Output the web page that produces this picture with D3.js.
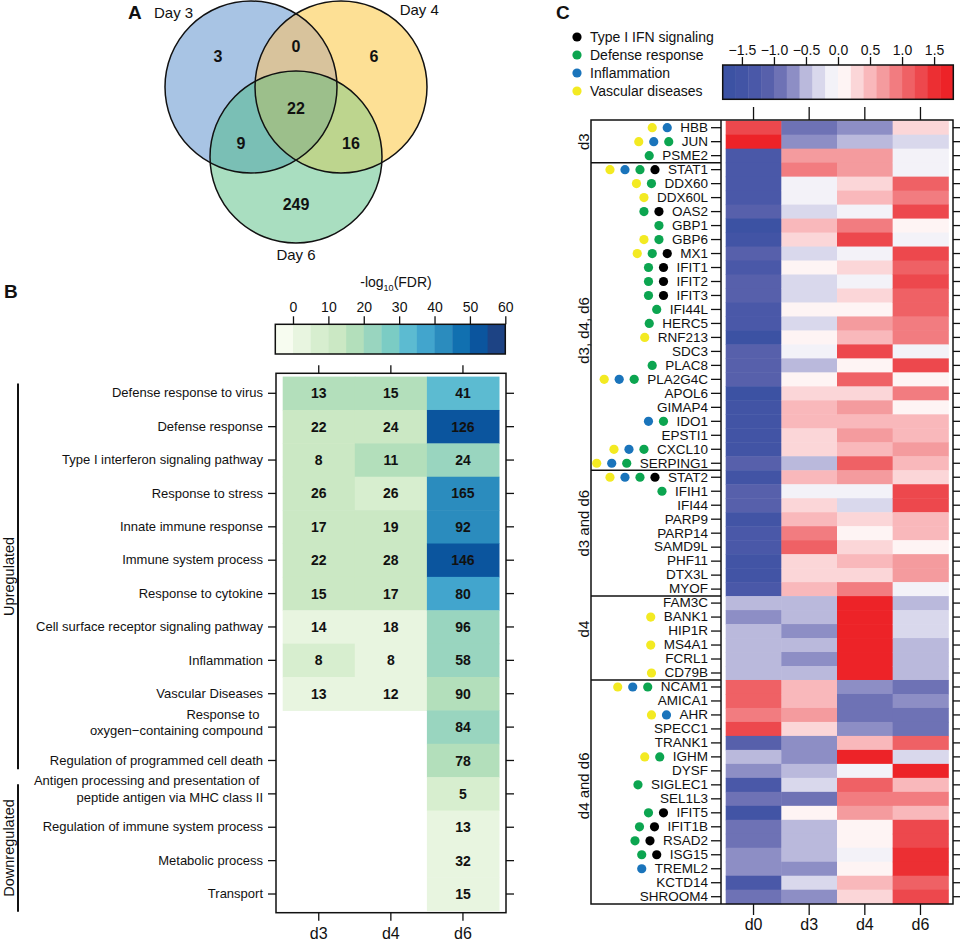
<!DOCTYPE html>
<html>
<head>
<meta charset="utf-8">
<script src="https://cdn.jsdelivr.net/npm/d3@7"></script>
<style>
  body { margin: 0; background: #fff; }
  svg { font-family: "Liberation Sans", Arial, Helvetica, sans-serif; }
</style>
</head>
<body>
<svg id="fig" width="965" height="942"></svg>
<script>
// ---------------- data ----------------
// A: Venn of DE genes per day
var vennSets = ["Day 3", "Day 4", "Day 6"];
// membership flags (Day3 Day4 Day6) of each region and its gene count
var vennRegions = ["100", "010", "001", "110", "101", "011", "111"];
var vennCounts = [3, 6, 249, 0, 9, 16, 22];

// B: GO terms, gene counts (numbers) and -log10(FDR) (colour)
var goTerms = [
  "Defense response to virus",
  "Defense response",
  "Type I interferon signaling pathway",
  "Response to stress",
  "Innate immune response",
  "Immune system process",
  "Response to cytokine",
  "Cell surface receptor signaling pathway",
  "Inflammation",
  "Vascular Diseases",
  "Response to \noxygen\u2212containing compound",
  "Regulation of programmed cell death",
  "Antigen processing and presentation of \npeptide antigen via MHC class II",
  "Regulation of immune system process",
  "Metabolic process",
  "Transport"
];
var goDays = ["d3", "d4", "d6"];
var goCountD3 = [13, 22, 8, 26, 17, 22, 15, 14, 8, 13, null, null, null, null, null, null];
var goCountD4 = [15, 24, 11, 26, 19, 28, 17, 18, 8, 12, null, null, null, null, null, null];
var goCountD6 = [41, 126, 24, 165, 92, 146, 80, 96, 58, 90, 84, 78, 5, 13, 32, 15];
var goFdrD3 = [17, 12, 12, 12, 12, 12, 12, 3, 7, 3, null, null, null, null, null, null];
var goFdrD4 = [17, 12, 17, 7, 12, 12, 12, 3, 3, 3, null, null, null, null, null, null];
var goFdrD6 = [32, 52, 22, 42, 42, 52, 37, 22, 22, 17, 22, 17, 7, 3, 3, 3];
var termGroups = ["Upregulated", "Downregulated"];
var termGroupSizes = [12, 4];
var fdrTicks = [0, 10, 20, 30, 40, 50, 60];

// C: scaled expression of the DE genes
var genes = [
  "HBB", "JUN", "PSME2",
  "STAT1", "DDX60", "DDX60L", "OAS2", "GBP1", "GBP6", "MX1", "IFIT1", "IFIT2", "IFIT3", "IFI44L",
  "HERC5", "RNF213", "SDC3", "PLAC8", "PLA2G4C", "APOL6", "GIMAP4", "IDO1", "EPSTI1", "CXCL10", "SERPING1",
  "STAT2", "IFIH1", "IFI44", "PARP9", "PARP14", "SAMD9L", "PHF11", "DTX3L", "MYOF",
  "FAM3C", "BANK1", "HIP1R", "MS4A1", "FCRL1", "CD79B",
  "NCAM1", "AMICA1", "AHR", "SPECC1", "TRANK1", "IGHM", "DYSF", "SIGLEC1", "SEL1L3", "IFIT5",
  "IFIT1B", "RSAD2", "ISG15", "TREML2", "KCTD14", "SHROOM4"
];
var geneGroups = ["d3", "d3, d4, d6", "d3 and d6", "d4", "d4 and d6"];
var geneGroupSizes = [3, 22, 9, 6, 16];
var timePoints = ["d0", "d3", "d4", "d6"];
var zD0 = [1.3, 1.7, -1.3,
  -1.3, -1.3, -1.3, -1.1, -1.7, -1.5, -1.1, -1.3, -1.1, -1.1, -1.3,
  -1.3, -1.7, -1.1, -1.1, -1.1, -1.7, -1.5, -1.5, -1.5, -1.5, -1.1,
  -1.5, -1.1, -1.1, -1.5, -1.3, -1.3, -1.5, -1.5, -1.3,
  -0.5, -0.7, -0.5, -0.5, -0.5, -0.5,
  1.1, 1.1, 0.9, 1.3, -1.1, -0.5, -0.7, -1.3, -0.9, -1.5,
  -0.9, -0.9, -0.7, -0.7, -1.3, -0.9];
var zD3 = [-0.9, -0.7, 0.7,
  0.9, -0.1, -0.1, -0.3, 0.5, 0.3, -0.3, 0.1, -0.3, -0.3, 0.1,
  -0.3, 0.1, -0.1, -0.5, 0.1, 0.3, 0.5, 0.5, 0.3, 0.3, -0.5,
  0.5, -0.1, 0.3, 0.5, 0.9, 1.1, 0.3, 0.3, 0.5,
  -0.5, -0.5, -0.7, -0.5, -0.7, -0.5,
  0.5, 0.5, 0.7, 0.3, -0.7, -0.7, -0.5, -0.3, -0.9, 0.1,
  -0.5, -0.5, -0.5, -0.7, -0.3, -0.7];
var zD4 = [-0.7, -0.5, 0.7,
  0.7, 0.3, 0.5, -0.1, 0.9, 1.3, -0.1, 0.3, -0.1, 0.3, 0.1,
  0.7, 0.5, 1.3, 0.1, 1.1, 0.3, 0.7, 0.5, 0.7, 0.5, 1.1,
  0.7, -0.1, -0.3, 0.3, 0.1, 0.3, 0.5, 0.3, 0.9,
  1.7, 1.7, 1.7, 1.7, 1.7, 1.7,
  -0.7, -0.9, -0.9, -0.7, 0.5, 1.7, -0.1, 1.1, 0.9, 0.7,
  0.1, 0.1, -0.1, 0.1, 0.5, 0.3];
var zD6 = [0.3, -0.3, -0.1,
  -0.1, 1.1, 0.9, 1.3, 0.1, -0.1, 1.3, 1.1, 1.3, 1.1, 1.1,
  0.9, 0.9, -0.1, 1.3, 0.1, 0.9, 0.1, 0.5, 0.5, 0.7, 0.5,
  0.3, 1.3, 1.3, 0.5, 0.5, 0.1, 0.7, 0.7, -0.1,
  -0.5, -0.3, -0.3, -0.5, -0.5, -0.5,
  -0.9, -0.7, -0.9, -0.9, 1.1, -0.3, 1.7, 0.5, 0.9, 0.5,
  1.3, 1.3, 1.5, 1.5, 1.1, 1.3];
var zTicks = [-1.5, -1.0, -0.5, 0.0, 0.5, 1.0, 1.5];

var annotCategories = ["Type I IFN signaling", "Defense response", "Inflammation", "Vascular diseases"];
var typeIfnGenes = ["STAT1", "OAS2", "MX1", "IFIT1", "IFIT2", "IFIT3", "STAT2", "IFIT5", "IFIT1B", "RSAD2", "ISG15"];
var defenseGenes = ["JUN", "PSME2", "STAT1", "DDX60", "OAS2", "GBP1", "GBP6", "MX1", "IFIT1", "IFIT2", "IFIT3",
  "IFI44L", "HERC5", "PLAC8", "PLA2G4C", "IDO1", "CXCL10", "SERPING1", "STAT2", "IFIH1", "NCAM1", "IGHM",
  "SIGLEC1", "IFIT5", "IFIT1B", "RSAD2", "ISG15"];
var inflammationGenes = ["HBB", "JUN", "STAT1", "PLA2G4C", "IDO1", "CXCL10", "SERPING1", "STAT2", "NCAM1", "AHR", "TREML2"];
var vascularGenes = ["HBB", "JUN", "STAT1", "DDX60", "DDX60L", "GBP6", "MX1", "RNF213", "PLA2G4C", "CXCL10",
  "SERPING1", "STAT2", "BANK1", "MS4A1", "CD79B", "NCAM1", "AHR", "IGHM"];

// ---------------- styles ----------------
var FONT = '"Liberation Sans", Arial, Helvetica, sans-serif';
var INK = "#111";
var vennFill = ["#a8c4e4", "#fde095", "#a9dec0", "#d8c39c", "#7abfb5", "#bdd58e", "#9cbf8b"];
var gnbu = ["#f7fcf0", "#e8f5e0", "#d7eecf", "#cbe8c4", "#b3dfbb", "#99d5bf", "#7bccc4",
  "#5cbbd1", "#42a5cd", "#2b8cbe", "#1170b0", "#0b559e", "#1d4384"];
var bwr = ["#3c52a3", "#4254a5", "#4a58a8", "#5760ab", "#6e72b5", "#8d8ec5", "#bab9dc", "#d9d8ec", "#f3f2f8",
  "#fef4f4", "#fbd6d8", "#f9b8bb", "#f49b9e", "#f27c80", "#ef6165", "#ed484d", "#ec2f33", "#ed2328"];
var catColors = ["#000000", "#0ca550", "#1a74bb", "#f3ea22"];
// nudges of the rotated group names along the heatmap rows (px)
var groupLabelNudge = [0, 14, -10, -9, -6];

var svg = d3.select("#fig");

function styleAxis(g, fs) {
  g.attr("font-size", null).attr("font-family", null);
  g.select(".domain").remove();
  g.selectAll(".tick line").attr("stroke", INK).attr("stroke-width", 1.3);
  g.selectAll(".tick text").attr("fill", INK).attr("font-size", fs).attr("font-family", FONT);
  return g;
}

function panelLetter(txt, x, y) {
  svg.append("text").attr("x", x).attr("y", y).attr("font-size", 19).attr("font-weight", "bold")
    .attr("fill", INK).text(txt);
}

// ---------------- A: Venn ----------------
var vennR = 86;
var vennCenters = [[251, 87], [341, 87], [296, 157]];
var vennLabelDir = [[-0.9, -0.87], [0.91, -0.9], [0, 1.14]];

var defs = svg.append("defs");
vennCenters.forEach(function(c, i) {
  defs.append("clipPath").attr("id", "vclip" + i)
    .append("circle").attr("cx", c[0]).attr("cy", c[1]).attr("r", vennR);
});

function members(code) {
  var m = [];
  code.split("").forEach(function(f, i) { if (f === "1") m.push(i); });
  return m;
}

var gA = svg.append("g");
var regionOrder = d3.range(vennRegions.length).sort(function(a, b) {
  return members(vennRegions[a]).length - members(vennRegions[b]).length;
});
regionOrder.forEach(function(k) {
  var m = members(vennRegions[k]);
  var g = gA;
  m.slice(0, -1).forEach(function(i) {
    g = g.append("g").attr("clip-path", "url(#vclip" + i + ")");
  });
  var c = vennCenters[m[m.length - 1]];
  g.append("circle").attr("cx", c[0]).attr("cy", c[1]).attr("r", vennR).attr("fill", vennFill[k]);
});
gA.selectAll("circle.outline").data(vennCenters).enter().append("circle")
  .attr("class", "outline")
  .attr("cx", function(d) { return d[0]; }).attr("cy", function(d) { return d[1]; })
  .attr("r", vennR).attr("fill", "none").attr("stroke", INK).attr("stroke-width", 1.5);

// place each count at the point of its region farthest from any circle edge
function regionLabelPos(code) {
  var best = null, bestD = -1;
  for (var x = 150; x <= 440; x += 1) {
    for (var y = 0; y <= 250; y += 1) {
      var ok = true, dmin = Infinity;
      for (var i = 0; i < 3; i++) {
        var dist = Math.hypot(x - vennCenters[i][0], y - vennCenters[i][1]);
        if ((dist < vennR) !== (code[i] === "1")) { ok = false; break; }
        dmin = Math.min(dmin, Math.abs(dist - vennR));
      }
      if (ok && dmin > bestD) { bestD = dmin; best = [x, y]; }
    }
  }
  return best;
}

vennRegions.forEach(function(code, k) {
  var p = regionLabelPos(code);
  gA.append("text").attr("x", p[0]).attr("y", p[1]).attr("dy", "0.36em")
    .attr("text-anchor", "middle").attr("font-size", 16).attr("font-weight", "bold")
    .attr("fill", INK).text(vennCounts[k]);
});

vennSets.forEach(function(s, i) {
  gA.append("text")
    .attr("x", vennCenters[i][0] + vennLabelDir[i][0] * vennR)
    .attr("y", vennCenters[i][1] + vennLabelDir[i][1] * vennR)
    .attr("dy", "0.36em").attr("text-anchor", "middle").attr("font-size", 15)
    .attr("fill", INK).text(s);
});
panelLetter("A", 128, 19);

// ---------------- B: GO heatmap ----------------
panelLetter("B", 4, 298);
var frameB = { x0: 276, x1: 506, y0: 373.3, y1: 912.7 };
var xB = d3.scaleBand().domain(goDays).range([282.7, 499]);
var yB = d3.scaleBand().domain(goTerms).range([376.6, 910.7]);
var fdrColor = d3.scaleQuantize().domain([-5, 60]).range(gnbu);
var goCounts = [goCountD3, goCountD4, goCountD6];
var goFdr = [goFdrD3, goFdrD4, goFdrD6];

var gB = svg.append("g");
goDays.forEach(function(day, j) {
  var cells = goTerms.map(function(t, i) { return { term: t, day: day, fdr: goFdr[j][i], n: goCounts[j][i] }; })
    .filter(function(d) { return d.fdr !== null; });
  gB.selectAll("rect.c" + day).data(cells).enter().append("rect")
    .attr("x", function(d) { return xB(d.day); })
    .attr("y", function(d) { return yB(d.term); })
    .attr("width", xB.bandwidth() + 0.5)
    .attr("height", yB.bandwidth() + 0.5)
    .attr("fill", function(d) { return fdrColor(d.fdr); });
  gB.selectAll("text.c" + day).data(cells).enter().append("text")
    .attr("x", function(d) { return xB(d.day) + xB.bandwidth() / 2; })
    .attr("y", function(d) { return yB(d.term) + yB.bandwidth() / 2; })
    .attr("dy", "0.36em").attr("text-anchor", "middle")
    .attr("font-size", 14).attr("font-weight", "bold").attr("fill", INK)
    .text(function(d) { return d.n; });
});
gB.append("rect").attr("x", frameB.x0).attr("y", frameB.y0)
  .attr("width", frameB.x1 - frameB.x0).attr("height", frameB.y1 - frameB.y0)
  .attr("fill", "none").attr("stroke", INK).attr("stroke-width", 1.5);

var axLB = gB.append("g").attr("transform", "translate(" + frameB.x0 + ",0)")
  .call(d3.axisLeft(yB).tickSize(8).tickPadding(5));
styleAxis(axLB, 13);
axLB.selectAll(".tick text").each(function(t) {
  var lines = t.split("\n");
  if (lines.length < 2) return;
  var el = d3.select(this).text(null).attr("xml:space", "preserve").style("white-space", "pre");
  lines.forEach(function(line, i) {
    el.append("tspan").attr("x", -13).attr("dy", i === 0 ? "-0.66em" : "1.3em").text(line);
  });
});
styleAxis(gB.append("g").attr("transform", "translate(" + frameB.x1 + ",0)")
  .call(d3.axisRight(yB).tickSize(8).tickFormat("")), 13);
styleAxis(gB.append("g").attr("transform", "translate(0," + frameB.y0 + ")")
  .call(d3.axisTop(xB).tickSize(8).tickFormat("")), 13);
styleAxis(gB.append("g").attr("transform", "translate(0," + frameB.y1 + ")")
  .call(d3.axisBottom(xB).tickSize(8).tickPadding(7)), 16);

// group brackets
var startIdx = 0;
termGroups.forEach(function(name, i) {
  var first = goTerms[startIdx], last = goTerms[startIdx + termGroupSizes[i] - 1];
  var ya = yB(first) + 7;
  var yb = yB(last) + yB.bandwidth() + (i === termGroups.length - 1 ? 1 : -8);
  gB.append("line").attr("x1", 18).attr("x2", 18).attr("y1", ya).attr("y2", yb)
    .attr("stroke", INK).attr("stroke-width", 2);
  gB.append("text").attr("transform", "translate(14," + (ya + yb) / 2 + ") rotate(-90)")
    .attr("text-anchor", "middle").attr("font-size", 14.5).attr("fill", INK).text(name);
  startIdx += termGroupSizes[i];
});

// colour key
var legB = { y0: 324.3, y1: 354 };
var xLegB = d3.scaleLinear().domain([-5, 60]).range([275.3, 505.3]);
gB.selectAll("rect.key").data(gnbu).enter().append("rect")
  .attr("x", function(d, i) { return xLegB(fdrColor.invertExtent(d)[0]); })
  .attr("y", legB.y0)
  .attr("width", function(d) { var e = fdrColor.invertExtent(d); return xLegB(e[1]) - xLegB(e[0]) + 0.4; })
  .attr("height", legB.y1 - legB.y0)
  .attr("fill", function(d) { return d; });
gB.append("rect").attr("x", xLegB(-5)).attr("y", legB.y0)
  .attr("width", xLegB(60) - xLegB(-5)).attr("height", legB.y1 - legB.y0)
  .attr("fill", "none").attr("stroke", INK).attr("stroke-width", 1.5);
styleAxis(gB.append("g").attr("transform", "translate(0," + legB.y0 + ")")
  .call(d3.axisTop(xLegB).tickValues(fdrTicks).tickSize(8).tickPadding(4)), 14);
var titleB = gB.append("text").attr("x", 396).attr("y", 287).attr("text-anchor", "middle")
  .attr("font-size", 14).attr("fill", INK);
titleB.append("tspan").text("-log");
titleB.append("tspan").attr("font-size", 9).attr("dy", 4).text("10");
titleB.append("tspan").attr("dy", -4).text("(FDR)");

// ---------------- C: expression heatmap ----------------
panelLetter("C", 556, 19);
var frameC = { x0: 721, x1: 953, y0: 120, y1: 904, box: 591 };
var xC = d3.scaleBand().domain(timePoints).range([725.7, 948.3]);
var yC = d3.scaleBand().domain(genes).range([120.7, 903.7]);
var zColor = d3.scaleQuantize().domain([-1.8, 1.8]).range(bwr);
var zSeries = [zD0, zD3, zD4, zD6];

var gC = svg.append("g");
timePoints.forEach(function(tp, j) {
  gC.selectAll("rect.c" + tp).data(genes).enter().append("rect")
    .attr("x", xC(tp))
    .attr("y", function(g) { return yC(g); })
    .attr("width", xC.bandwidth() + 0.5)
    .attr("height", yC.bandwidth() + 0.5)
    .attr("fill", function(g, i) { return zColor(zSeries[j][i]); });
});
gC.append("rect").attr("x", frameC.box).attr("y", frameC.y0)
  .attr("width", frameC.x1 - frameC.box).attr("height", frameC.y1 - frameC.y0)
  .attr("fill", "none").attr("stroke", INK).attr("stroke-width", 1.5);
gC.append("line").attr("x1", frameC.x0).attr("x2", frameC.x0).attr("y1", frameC.y0).attr("y2", frameC.y1)
  .attr("stroke", INK).attr("stroke-width", 1.5);

// gene group separators and labels
var gStart = 0;
geneGroups.forEach(function(name, i) {
  var top = yC(genes[gStart]);
  var bottom = yC(genes[gStart + geneGroupSizes[i] - 1]) + yC.bandwidth();
  if (i > 0) {
    gC.append("line").attr("x1", frameC.box).attr("x2", frameC.x0).attr("y1", top).attr("y2", top)
      .attr("stroke", INK).attr("stroke-width", 1.5);
  }
  var cy = (top + bottom) / 2 + groupLabelNudge[i];
  gC.append("text").attr("transform", "translate(589," + cy + ") rotate(-90)")
    .attr("text-anchor", "middle").attr("font-size", 15).attr("fill", INK).text(name);
  gStart += geneGroupSizes[i];
});

var axLC = gC.append("g").attr("transform", "translate(" + frameC.x0 + ",0)")
  .call(d3.axisLeft(yC).tickSize(10).tickPadding(3));
styleAxis(axLC, 13.5);
var catGenes = [typeIfnGenes, defenseGenes, inflammationGenes, vascularGenes];
axLC.selectAll(".tick").each(function(gene) {
  var tick = d3.select(this);
  var w = tick.select("text").node().getComputedTextLength();
  var k = 0;
  catGenes.forEach(function(list, ci) {
    if (list.indexOf(gene) >= 0) {
      tick.append("circle").attr("cx", -13 - w - 13 - 15 * k).attr("cy", 0).attr("r", 4.6)
        .attr("fill", catColors[ci]);
      k++;
    }
  });
});
styleAxis(gC.append("g").attr("transform", "translate(" + frameC.x1 + ",0)")
  .call(d3.axisRight(yC).tickSize(7).tickFormat("")), 13);
styleAxis(gC.append("g").attr("transform", "translate(0," + frameC.y0 + ")")
  .call(d3.axisTop(xC).tickSize(13).tickFormat("")), 13);
styleAxis(gC.append("g").attr("transform", "translate(0," + frameC.y1 + ")")
  .call(d3.axisBottom(xC).tickSize(11).tickPadding(4)), 16);

// category legend
var yLegCat = d3.scalePoint().domain(annotCategories).range([37, 91]);
annotCategories.forEach(function(c, i) {
  gC.append("circle").attr("cx", 577).attr("cy", yLegCat(c)).attr("r", 4.6).attr("fill", catColors[i]);
  gC.append("text").attr("x", 590).attr("y", yLegCat(c)).attr("dy", "0.36em")
    .attr("font-size", 14).attr("fill", INK).text(c);
});

// colour key
var legC = { y0: 65, y1: 99.3 };
var xLegC = d3.scaleLinear().domain([-1.8, 1.8]).range([722.7, 953.3]);
gC.selectAll("rect.key").data(bwr).enter().append("rect")
  .attr("x", function(d) { return xLegC(zColor.invertExtent(d)[0]); })
  .attr("y", legC.y0)
  .attr("width", function(d) { var e = zColor.invertExtent(d); return xLegC(e[1]) - xLegC(e[0]) + 0.4; })
  .attr("height", legC.y1 - legC.y0)
  .attr("fill", function(d) { return d; });
gC.append("rect").attr("x", xLegC(-1.8)).attr("y", legC.y0)
  .attr("width", xLegC(1.8) - xLegC(-1.8)).attr("height", legC.y1 - legC.y0)
  .attr("fill", "none").attr("stroke", INK).attr("stroke-width", 1.5);
styleAxis(gC.append("g").attr("transform", "translate(0," + legC.y0 + ")")
  .call(d3.axisTop(xLegC).tickValues(zTicks).tickFormat(d3.format(".1f")).tickSize(8).tickPadding(2)), 14);
</script>
</body>
</html>
